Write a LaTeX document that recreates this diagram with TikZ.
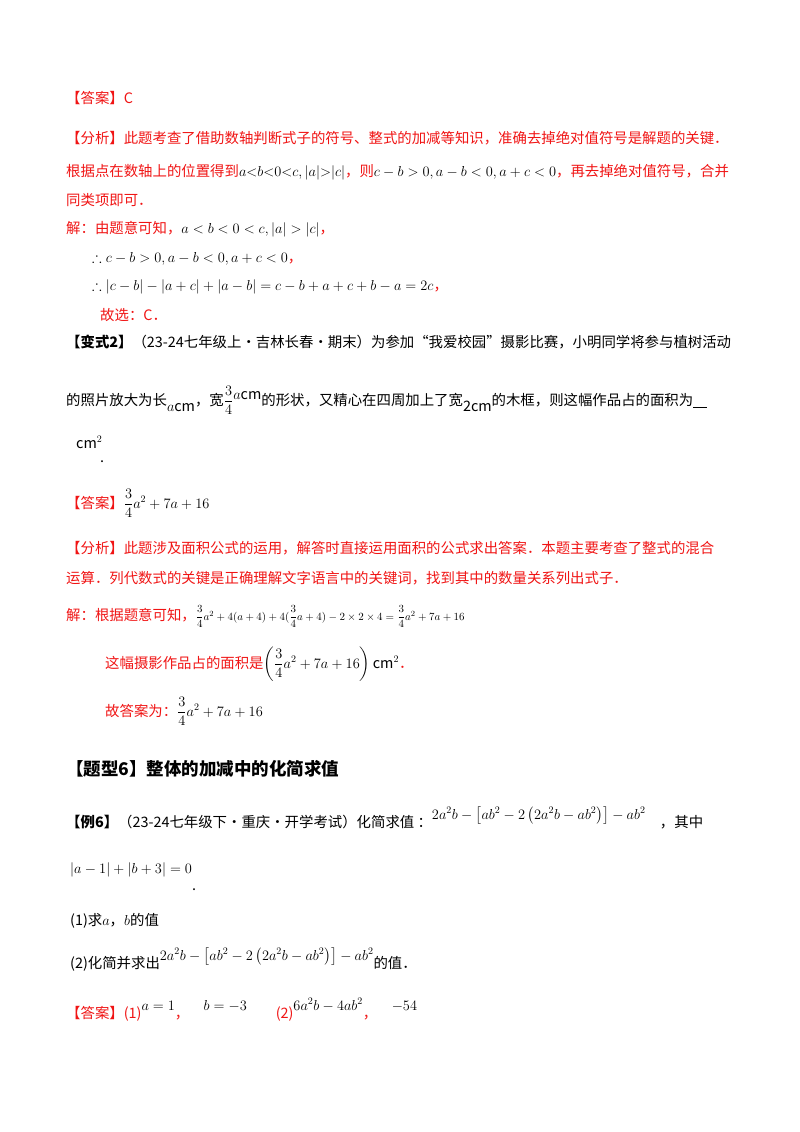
\documentclass[tikz,border=0pt]{standalone}
\usepackage{amsmath,amssymb}
\usepackage{fontspec}
\setmainfont{Noto Sans CJK SC}
\definecolor{ansred}{RGB}{240,20,20}
\tikzset{tx/.style={anchor=base west,inner sep=0pt,font=\fontsize{14.4}{17}\selectfont},
 rd/.style={tx,text=ansred}}
\begin{document}
\begin{tikzpicture}[x=1pt,y=-1pt]
\useasboundingbox (0,0) rectangle (800,1132);
\node[rd] (l1) at (66,103) {【答案】C};
\node[rd] (l2) at (66,143) {【分析】此题考查了借助数轴判断式子的符号、整式的加减等知识，准确去掉绝对值符号是解题的关键．};
\node[rd] (l3) at (66,176) {根据点在数轴上的位置得到\textcolor{black}{$a{<}b{<}0{<}c,|a|{>}|c|$}，则\textcolor{black}{$c-b>0,a-b<0,a+c<0$}，再去掉绝对值符号，合并};
\node[rd] (l4) at (66,205) {同类项即可．};
\node[rd] (l5) at (66,233) {解：由题意可知，\textcolor{black}{$a<b<0<c,|a|>|c|$}，};
\node[rd] (l6) at (92,262) {\textcolor{black}{$\therefore c-b>0,a-b<0,a+c<0$}，};
\node[rd] (l7) at (92,290) {\textcolor{black}{$\therefore|c-b|-|a+c|+|a-b|=c-b+a+c+b-a=2c$}，};
\node[rd] (l8) at (100,320) {故选：C．};
\node[tx] (v1) at (66,347) {\textbf{【变式2】}（23-24七年级上·吉林长春·期末）为参加“我爱校园”摄影比赛，小明同学将参与植树活动};
\node[tx] (v2) at (66,405) {的照片放大为长\raisebox{-6pt}{$a$cm}，宽$\dfrac34$\raisebox{6pt}{$a$cm}的形状，又精心在四周加上了宽\raisebox{-6pt}{2cm}的木框，则这幅作品占的面积为\underline{\hspace{14pt}}};
\node[tx] (v3) at (76,448) {cm$^2$};
\node[tx] (v4) at (100,462) {.};
\node[rd] (a1) at (66,508) {【答案】\textcolor{black}{$\dfrac34a^2+7a+16$}};
\node[rd] (a2) at (66,553) {【分析】此题涉及面积公式的运用，解答时直接运用面积的公式求出答案．本题主要考查了整式的混合};
\node[rd] (a3) at (66,583) {运算．列代数式的关键是正确理解文字语言中的关键词，找到其中的数量关系列出式子．};
\node[rd] (a4) at (66,620) {解：根据题意可知，\textcolor{black}{\fontsize{11}{13}\selectfont$\dfrac34a^2+4(a+4)+4(\dfrac34a+4)-2\times2\times4=\dfrac34a^2+7a+16$}};
\node[rd] (a5) at (105,668) {这幅摄影作品占的面积是\textcolor{black}{$\left(\dfrac34a^2+7a+16\right)\mathrm{cm}^2$}．};
\node[rd] (a6) at (105,716) {故答案为：\textcolor{black}{$\dfrac34a^2+7a+16$}};
\node[tx,font=\fontsize{17.5}{20}\selectfont\bfseries] (h) at (66,775) {【题型6】整体的加减中的化简求值};
\node[tx] (e1) at (66,827) {\textbf{【例6】}（23-24七年级下·重庆·开学考试）化简求值 ：\raisebox{8pt}{$2a^2b-\left[ab^2-2\left(2a^2b-ab^2\right)\right]-ab^2$}\quad ，其中};
\node[tx] (e2) at (70,873) {$\left|a-1\right|+\left|b+3\right|=0$};
\node[tx] (e3) at (192,890) {.};
\node[tx] (e4) at (70,925) {(1)求$a$，$b$的值};
\node[tx] (e5) at (70,968) {(2)化简并求出\raisebox{8pt}{$2a^2b-\left[ab^2-2\left(2a^2b-ab^2\right)\right]-ab^2$}的值．};
\node[rd] (e6) at (66,1018) {【答案】(1)\textcolor{black}{\raisebox{8pt}{$a=1$}}，\quad\textcolor{black}{\raisebox{8pt}{$b=-3$}}\qquad (2)\textcolor{black}{\raisebox{8pt}{$6a^2b-4ab^2$}}，\quad\textcolor{black}{\raisebox{8pt}{$-54$}}};
\end{tikzpicture}
\end{document}
